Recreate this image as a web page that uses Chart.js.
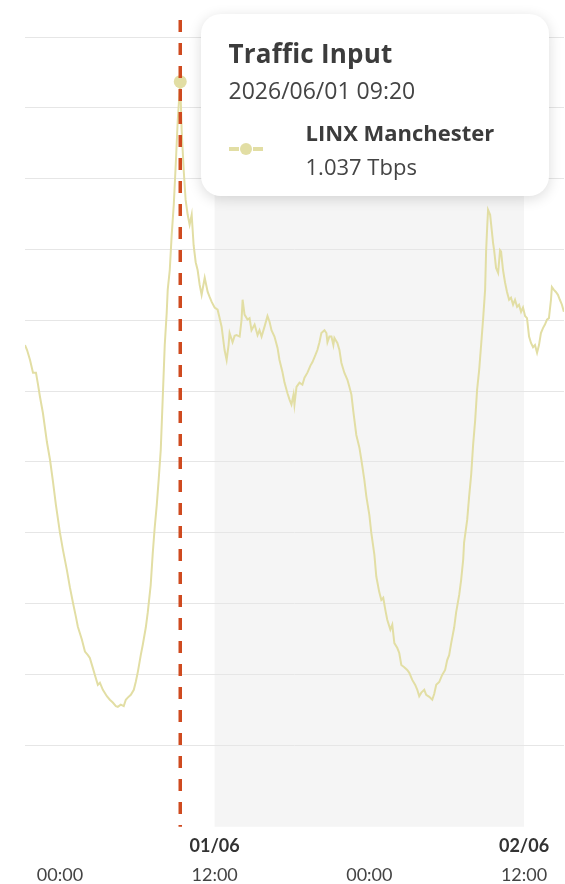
<!DOCTYPE html>
<html>
<head>
<meta charset="utf-8">
<script src="https://cdn.jsdelivr.net/npm/chart.js@4.4.1/dist/chart.umd.min.js"></script>
<style>
  body { margin: 0; background: #fff; font-family: Lato, 'Noto Sans', sans-serif; }
  #wrap { position: relative; width: 565px; height: 884px; overflow: hidden; }
  #tip {
    position: absolute; top: 14px; width: 348px; height: 182px; box-sizing: border-box;
    padding: 24px 0 0 28px; background: #fff; border-radius: 20px;
    box-shadow: 0 3px 14px rgba(0, 0, 0, 0.14); color: #3c3c3c; opacity: 0;
    font-family: 'Open Sans', Lato, sans-serif;
  }
  #tip .t-title { font-weight: 700; font-size: 26px; line-height: 30px; letter-spacing: 0.2px; }
  #tip .t-date { font-size: 23px; line-height: 26px; margin-top: 9px; color: #444; }
  #tip .t-row { display: flex; align-items: center; margin-top: 12px; }
  #tip .t-icon { display: flex; align-items: center; width: 34px; margin-right: 43px; }
  #tip .t-icon i { display: block; height: 4px; width: 10px; background: #e2dea4; }
  #tip .t-icon b { display: block; height: 12px; width: 12px; border-radius: 50%; background: #e2dea4; margin: 0 1px; }
  #tip .t-name { font-weight: 700; font-size: 22px; line-height: 34px; }
  #tip .t-val { font-size: 22px; line-height: 34px; color: #444; }
</style>
</head>
<body>
<div id="wrap">
  <canvas id="trafficChart"></canvas>
  <div id="tip"></div>
</div>
<script>
// hours from 2026/06/01 00:00
const sampleHours = [
  -2.71, -2.55, -2.32, -2.09, -1.86, -1.70, -1.55, -1.32, -1.01, -0.77,
  -0.54, -0.31, 0.00, 0.23, 0.54, 0.77, 1.01, 1.24, 1.39, 1.70,
  1.94, 2.17, 2.32, 2.55, 2.71, 2.94, 3.10, 3.33, 3.64, 3.87,
  4.10, 4.34, 4.49, 4.72, 4.95, 5.11, 5.26, 5.50, 5.73, 5.88,
  6.04, 6.27, 6.43, 6.66, 6.81, 7.04, 7.20, 7.35, 7.51, 7.66,
  7.82, 7.97, 8.13, 8.28, 8.36, 8.52, 8.67, 8.83, 8.98, 9.14,
  9.333, 9.44, 9.60, 9.75, 9.91, 10.06, 10.22, 10.37, 10.53, 10.68,
  10.84, 10.99, 11.23, 11.46, 11.61, 11.77, 12.00, 12.23, 12.39, 12.54,
  12.77, 12.93, 13.08, 13.16, 13.39, 13.55, 13.70, 13.94, 14.09, 14.17,
  14.32, 14.55, 14.71, 14.86, 15.10, 15.33, 15.48, 15.64, 15.87, 16.10,
  16.26, 16.41, 16.64, 16.88, 17.03, 17.26, 17.42, 17.65, 17.81, 17.96,
  18.12, 18.19, 18.35, 18.58, 18.81, 18.97, 19.20, 19.43, 19.59, 19.82,
  19.97, 20.13, 20.28, 20.52, 20.67, 20.75, 20.90, 21.06, 21.21, 21.29,
  21.52, 21.68, 21.83, 22.06, 22.30, 22.45, 22.61, 22.76, 22.99, 23.23,
  23.38, 23.61, 23.77, 24.00, 24.15, 24.39, 24.54, 24.77, 24.93, 25.08,
  25.24, 25.39, 25.63, 25.78, 25.94, 26.17, 26.32, 26.48, 26.71, 26.94,
  27.10, 27.33, 27.56, 27.72, 27.87, 28.03, 28.26, 28.41, 28.65, 28.88,
  29.03, 29.19, 29.42, 29.65, 29.88, 30.04, 30.19, 30.35, 30.58, 30.73,
  30.97, 31.12, 31.28, 31.35, 31.59, 31.74, 31.90, 32.05, 32.21, 32.36,
  32.52, 32.67, 32.83, 32.98, 33.06, 33.14, 33.21, 33.37, 33.45, 33.60,
  33.68, 33.83, 33.99, 34.14, 34.22, 34.37, 34.53, 34.68, 34.84, 34.99,
  35.15, 35.30, 35.46, 35.61, 35.77, 35.92, 36.08, 36.23, 36.39, 36.54,
  36.70, 36.85, 37.01, 37.16, 37.31, 37.47, 37.62, 37.78, 37.93, 38.09,
  38.16, 38.32, 38.47, 38.63, 38.78, 38.94, 39.09
];

// LINX Manchester input, Tbps
const inputTbps = [
  0.665, 0.658, 0.644, 0.626, 0.626, 0.609, 0.592, 0.569, 0.528, 0.503,
  0.472, 0.439, 0.400, 0.376, 0.347, 0.323, 0.301, 0.281, 0.267, 0.249,
  0.232, 0.227, 0.223, 0.209, 0.199, 0.185, 0.188, 0.178, 0.169, 0.164,
  0.160, 0.155, 0.154, 0.157, 0.155, 0.164, 0.167, 0.171, 0.178, 0.189,
  0.203, 0.227, 0.242, 0.266, 0.287, 0.326, 0.371, 0.407, 0.439, 0.475,
  0.517, 0.588, 0.665, 0.710, 0.743, 0.771, 0.821, 0.863, 0.919, 0.983,
  1.037, 0.969, 0.912, 0.870, 0.849, 0.835, 0.849, 0.806, 0.782, 0.771,
  0.750, 0.736, 0.760, 0.740, 0.733, 0.726, 0.718, 0.715, 0.703, 0.691,
  0.658, 0.644, 0.665, 0.682, 0.669, 0.678, 0.679, 0.677, 0.701, 0.729,
  0.708, 0.701, 0.703, 0.686, 0.694, 0.679, 0.686, 0.677, 0.691, 0.706,
  0.698, 0.686, 0.677, 0.661, 0.644, 0.627, 0.612, 0.597, 0.588, 0.581,
  0.595, 0.581, 0.606, 0.612, 0.609, 0.619, 0.626, 0.636, 0.641, 0.651,
  0.658, 0.669, 0.682, 0.686, 0.682, 0.669, 0.677, 0.677, 0.665, 0.675,
  0.668, 0.658, 0.640, 0.626, 0.616, 0.606, 0.595, 0.571, 0.538, 0.520,
  0.503, 0.475, 0.451, 0.425, 0.400, 0.369, 0.338, 0.316, 0.305, 0.308,
  0.291, 0.277, 0.263, 0.270, 0.244, 0.237, 0.230, 0.213, 0.210, 0.206,
  0.202, 0.192, 0.185, 0.178, 0.169, 0.174, 0.178, 0.171, 0.168, 0.164,
  0.172, 0.185, 0.189, 0.199, 0.206, 0.220, 0.227, 0.244, 0.266, 0.287,
  0.312, 0.333, 0.362, 0.386, 0.418, 0.451, 0.482, 0.524, 0.559, 0.602,
  0.630, 0.665, 0.703, 0.743, 0.799, 0.831, 0.856, 0.849, 0.835, 0.809,
  0.799, 0.774, 0.767, 0.799, 0.797, 0.771, 0.753, 0.740, 0.729, 0.732,
  0.722, 0.729, 0.719, 0.722, 0.712, 0.718, 0.706, 0.703, 0.677, 0.668,
  0.662, 0.665, 0.654, 0.665, 0.682, 0.689, 0.694, 0.701, 0.703, 0.729,
  0.747, 0.743, 0.740, 0.736, 0.729, 0.722, 0.712
];

const tickHours = [0, 12, 24, 36];
const dateLabels = ['', '01/06', '', '02/06'];
const timeLabels = ['00:00', '12:00', '00:00', '12:00'];
const shadedHours = [12, 36];
const hoverHour = 9.333;

const seriesName = 'LINX Manchester';
const metricName = 'Traffic Input';
const lineColor = '#e2dea4';
const fontFamily = "Lato, 'Noto Sans', sans-serif";

function stamp(h) {
    const d = new Date(Date.UTC(2026, 5, 1, 0, Math.round(h * 60)));
    const p = n => String(n).padStart(2, '0');
    return `${d.getUTCFullYear()}/${p(d.getUTCMonth() + 1)}/${p(d.getUTCDate())} ${p(d.getUTCHours())}:${p(d.getUTCMinutes())}`;
}

// grey band behind the data
const shadePlugin = {
    id: 'shade',
    beforeDraw(chart) {
        const { ctx, chartArea, scales } = chart;
        const x1 = scales.x.getPixelForValue(shadedHours[0]);
        const x2 = scales.x.getPixelForValue(shadedHours[1]);
        ctx.save();
        ctx.fillStyle = '#f5f5f5';
        ctx.fillRect(x1, chartArea.top, x2 - x1, chartArea.bottom - chartArea.top);
        ctx.restore();
    }
};

// dashed marker at the hovered point
const crosshairPlugin = {
    id: 'crosshair',
    afterDatasetsDraw(chart) {
        const active = chart.getActiveElements();
        if (!active.length) return;
        const x = active[0].element.x;
        const { ctx, chartArea } = chart;
        ctx.save();
        ctx.strokeStyle = '#cf4a1f';
        ctx.lineWidth = 3.5;
        ctx.setLineDash([12, 11]);
        ctx.beginPath();
        ctx.moveTo(x, chartArea.top + 2);
        ctx.lineTo(x, chartArea.bottom);
        ctx.stroke();
        ctx.restore();
    }
};

function renderTooltip(context) {
    const { chart, tooltip } = context;
    const el = document.getElementById('tip');
    if (tooltip.opacity === 0) {
        el.style.opacity = 0;
        return;
    }
    const point = tooltip.dataPoints[0];
    el.innerHTML =
        `<div class="t-title">${tooltip.title[0]}</div>` +
        `<div class="t-date">${tooltip.title[1]}</div>` +
        `<div class="t-row"><span class="t-icon"><i></i><b></b><i></i></span>` +
        `<div><div class="t-name">${point.dataset.label}</div>` +
        `<div class="t-val">${point.parsed.y.toFixed(3)} Tbps</div></div></div>`;
    el.style.left = (chart.canvas.offsetLeft + tooltip.caretX + 20) + 'px';
    el.style.opacity = 1;
}

const xRange = { type: 'linear', min: -2.71, max: 39.1 };

const chart = new Chart(document.getElementById('trafficChart'), {
    type: 'line',
    data: {
        datasets: [{
            label: seriesName,
            data: sampleHours.map((h, i) => ({ x: h, y: inputTbps[i] })),
            borderColor: lineColor,
            backgroundColor: lineColor,
            borderWidth: 2,
            pointRadius: 0,
            pointHoverRadius: 6.5,
            pointHoverBorderWidth: 0,
            pointHoverBackgroundColor: lineColor,
            tension: 0
        }]
    },
    options: {
        responsive: true,
        maintainAspectRatio: false,
        animation: false,
        events: [],
        layout: { padding: { top: 18, left: 25, right: 0, bottom: 0 } },
        plugins: {
            legend: { display: false },
            tooltip: {
                enabled: false,
                external: renderTooltip,
                callbacks: {
                    title: items => [metricName, stamp(items[0].parsed.x)]
                }
            }
        },
        scales: {
            x: {
                ...xRange,
                weight: 0,
                grid: { display: false, drawTicks: false },
                border: { display: false },
                afterBuildTicks: axis => { axis.ticks = tickHours.map(v => ({ value: v })); },
                ticks: {
                    autoSkip: false, maxRotation: 0, padding: 9, color: '#333',
                    font: { family: fontFamily, size: 18, weight: 'bold' },
                    callback: (v, i) => dateLabels[i]
                }
            },
            xTime: {
                ...xRange,
                axis: 'x',
                position: 'bottom',
                weight: 1,
                grid: { display: false, drawTicks: false },
                border: { display: false },
                afterBuildTicks: axis => { axis.ticks = tickHours.map(v => ({ value: v })); },
                ticks: {
                    autoSkip: false, maxRotation: 0, padding: -2, color: '#444',
                    font: { family: fontFamily, size: 18 },
                    callback: (v, i) => timeLabels[i]
                }
            },
            y: {
                min: -0.0155,
                max: 1.127,
                border: { display: false },
                grid: { color: '#e6e6e6', drawTicks: false },
                ticks: { display: false, stepSize: 0.1 },
                afterBuildTicks: axis => {
                    axis.ticks = axis.ticks.filter(t => Math.abs(t.value * 10 - Math.round(t.value * 10)) < 1e-6);
                }
            }
        }
    },
    plugins: [shadePlugin, crosshairPlugin]
});

const hoverIndex = sampleHours.indexOf(hoverHour);
const activePoint = [{ datasetIndex: 0, index: hoverIndex }];
chart.setActiveElements(activePoint);
chart.tooltip.setActiveElements(activePoint, { x: 0, y: 0 });
chart.update();
</script>
</body>
</html>
